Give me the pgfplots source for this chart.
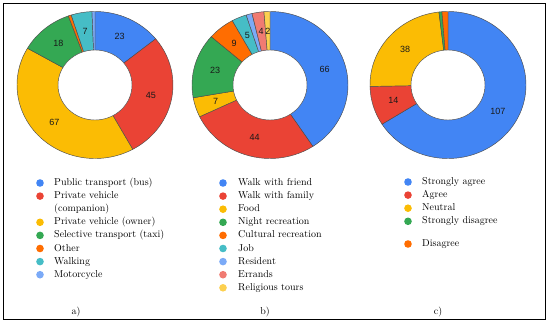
\documentclass[border=0pt]{standalone}
\usepackage{pgfplots}
\pgfplotsset{compat=1.18}
\usepackage{fontspec}
\newfontfamily\labelfont{Liberation Sans}
\definecolor{gblue}{HTML}{4285F4}
\definecolor{gred}{HTML}{EA4335}
\definecolor{gyellow}{HTML}{FBBC04}
\definecolor{ggreen}{HTML}{34A853}
\definecolor{gorange}{HTML}{FF6D01}
\definecolor{gcyan}{HTML}{46BDC6}
\definecolor{glblue}{HTML}{7BAAF7}
\definecolor{gpink}{HTML}{F07B72}
\definecolor{glyellow}{HTML}{FCD04F}
% data: value/colour/show label
\def\dataA{23/gblue/1,45/gred/1,67/gyellow/1,18/ggreen/1,1/gorange/0,7/gcyan/1,1/glblue/0}
\def\dataB{66/gblue/1,44/gred/1,7/gyellow/1,23/ggreen/1,9/gorange/1,5/gcyan/1,2/glblue/0,4/gpink/1,2/glyellow/1}
\def\dataC{107/gblue/1,14/gred/1,38/gyellow/1,1/ggreen/0,2/gorange/0}
\def\Rx{78}\def\Ry{73.5}\def\rx{37}\def\ry{35}\def\Lx{57}\def\Ly{54}
\tikzset{dlabel/.style={font=\labelfont\fontsize{9}{10}\selectfont,text=black!90,inner sep=0pt},
  leg/.style={anchor=west,font=\fontsize{10}{12}\selectfont,inner sep=0pt,text height=7pt,text depth=2pt,align=left}}
\newcommand\donut[3]{%
  \gdef\dtotal{0}%
  \foreach \v/\c/\l in #3{\pgfmathparse{\dtotal+\v}\xdef\dtotal{\pgfmathresult}}%
  \gdef\dcum{0}%
  \foreach \v/\c/\l in #3{%
    \pgfmathsetmacro\sa{90-360*(\dcum/\dtotal)}%
    \pgfmathparse{\dcum+\v}\xdef\dcum{\pgfmathresult}%
    \pgfmathsetmacro\ea{90-360*(\dcum/\dtotal)}%
    \edef\cmd{\noexpand\filldraw[fill=\c,draw=black!70,line width=0.45pt] (axis cs:#1,#2) -- ++(\sa:\Rx pt and \Ry pt) arc[start angle=\sa, end angle=\ea, x radius=\Rx pt, y radius=\Ry pt] -- cycle;}%
    \cmd
  }%
  \edef\cmd{\noexpand\filldraw[fill=white,draw=black!70,line width=0.45pt] (axis cs:#1,#2) ellipse[x radius=\rx pt, y radius=\ry pt];}\cmd
  \gdef\dcum{0}%
  \foreach \v/\c/\l in #3{%
    \pgfmathsetmacro\sa{90-360*(\dcum/\dtotal)}%
    \pgfmathparse{\dcum+\v}\xdef\dcum{\pgfmathresult}%
    \pgfmathsetmacro\ea{90-360*(\dcum/\dtotal)}%
    \pgfmathsetmacro\ma{(\sa+\ea)/2}%
    \ifnum\l=1
      \edef\cmd{\noexpand\path (axis cs:#1,#2) ++(\ma:\Lx pt and \Ly pt) node[dlabel] {\v};}%
      \cmd
    \fi
  }%
}
\begin{document}
\begin{tikzpicture}
\begin{axis}[scale only axis, width=550pt, height=325pt,
  xmin=0, xmax=550, ymin=0, ymax=325, hide axis, clip=false]
\path (axis cs:0,0) rectangle (axis cs:550,325);
\draw[line width=1pt, black] (axis cs:3,5.5) rectangle (axis cs:545,322);
\donut{95}{240}{\dataA}
\donut{270}{240}{\dataB}
\donut{448}{240}{\dataC}
% legend a
\fill[gblue]   (axis cs:40,142) circle[radius=3.8pt];
\node[leg] at (axis cs:54,142) {Public transport (bus)};
\fill[gred]    (axis cs:40,128.9) circle[radius=3.8pt];
\node[leg] at (axis cs:54,128.9) {Private vehicle};
\node[leg] at (axis cs:54,115.8) {(companion)};
\fill[gyellow] (axis cs:40,102.7) circle[radius=3.8pt];
\node[leg] at (axis cs:54,102.7) {Private vehicle (owner)};
\fill[ggreen]  (axis cs:40,89.6) circle[radius=3.8pt];
\node[leg] at (axis cs:54,89.6) {Selective transport (taxi)};
\fill[gorange] (axis cs:40,76.5) circle[radius=3.8pt];
\node[leg] at (axis cs:54,76.5) {Other};
\fill[gcyan]   (axis cs:40,63.4) circle[radius=3.8pt];
\node[leg] at (axis cs:54,63.4) {Walking};
\fill[glblue]  (axis cs:40,50.3) circle[radius=3.8pt];
\node[leg] at (axis cs:54,50.3) {Motorcycle};
% legend b
\fill[gblue]    (axis cs:223,142) circle[radius=3.8pt];
\node[leg] at (axis cs:238,142) {Walk with friend};
\fill[gred]     (axis cs:223,128.9) circle[radius=3.8pt];
\node[leg] at (axis cs:238,128.9) {Walk with family};
\fill[gyellow]  (axis cs:223,115.8) circle[radius=3.8pt];
\node[leg] at (axis cs:238,115.8) {Food};
\fill[ggreen]   (axis cs:223,102.7) circle[radius=3.8pt];
\node[leg] at (axis cs:238,102.7) {Night recreation};
\fill[gorange]  (axis cs:223,89.6) circle[radius=3.8pt];
\node[leg] at (axis cs:238,89.6) {Cultural recreation};
\fill[gcyan]    (axis cs:223,76.5) circle[radius=3.8pt];
\node[leg] at (axis cs:238,76.5) {Job};
\fill[glblue]   (axis cs:223,63.4) circle[radius=3.8pt];
\node[leg] at (axis cs:238,63.4) {Resident};
\fill[gpink]    (axis cs:223,50.3) circle[radius=3.8pt];
\node[leg] at (axis cs:238,50.3) {Errands};
\fill[glyellow] (axis cs:223,37.2) circle[radius=3.8pt];
\node[leg] at (axis cs:238,37.2) {Religious tours};
% legend c
\fill[gblue]   (axis cs:408,143) circle[radius=3.8pt];
\node[leg] at (axis cs:422,143) {Strongly agree};
\fill[gred]    (axis cs:408,129.9) circle[radius=3.8pt];
\node[leg] at (axis cs:422,129.9) {Agree};
\fill[gyellow] (axis cs:408,116.8) circle[radius=3.8pt];
\node[leg] at (axis cs:422,116.8) {Neutral};
\fill[ggreen]  (axis cs:408,103.7) circle[radius=3.8pt];
\node[leg] at (axis cs:422,103.7) {Strongly disagree};
\fill[gorange] (axis cs:408,81) circle[radius=3.8pt];
\node[leg] at (axis cs:422,81) {Disagree};
% panel letters
\node[font=\fontsize{10}{12}\selectfont] at (axis cs:76,13) {a)};
\node[font=\fontsize{10}{12}\selectfont] at (axis cs:265,13) {b)};
\node[font=\fontsize{10}{12}\selectfont] at (axis cs:438,13) {c)};
\end{axis}
\end{tikzpicture}
\end{document}
